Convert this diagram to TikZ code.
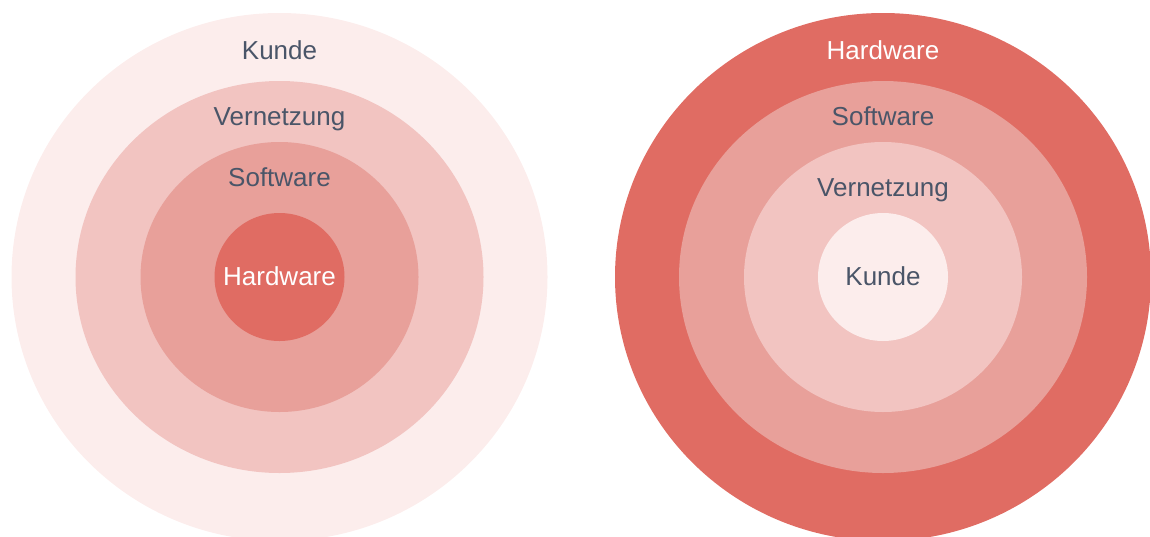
\documentclass[tikz,border=0pt]{standalone}
\usepackage{fontspec}
\setmainfont{Liberation Sans}
\definecolor{ringA}{HTML}{E06C63}
\definecolor{ringB}{HTML}{E8A09A}
\definecolor{ringC}{HTML}{F2C4C1}
\definecolor{ringD}{HTML}{FCEDEC}
\definecolor{labeltext}{HTML}{4A5568}
\begin{document}
\begin{tikzpicture}[x=1pt,y=-1pt,
  lbl/.style={anchor=base,inner sep=0pt,font=\fontsize{26}{26}\selectfont,text=labeltext},
  lblw/.style={lbl,text=white}]
\useasboundingbox (0,0) rectangle (1150,536);
\clip (0,0) rectangle (1150,536);
% left: customer outside, hardware in the core
\coordinate (L) at (279.5,277);
\fill[ringD] (L) ellipse [x radius=268, y radius=264];
\fill[ringC] (L) ellipse [x radius=204, y radius=196];
\fill[ringB] (L) ellipse [x radius=139, y radius=135];
\fill[ringA] (L) ellipse [x radius=65, y radius=64];
\node[lbl]  (lk) at (279.5,59) {Kunde};
\node[lbl]  (lv) at (279.5,125) {Vernetzung};
\node[lbl]  (ls) at (279.5,186) {Software};
\node[lblw] (lh) at (279.5,285.5) {Hardware};
% right: hardware outside, customer in the core
\coordinate (R) at (883,277);
\fill[ringA] (R) ellipse [x radius=268, y radius=264];
\fill[ringB] (R) ellipse [x radius=204, y radius=196];
\fill[ringC] (R) ellipse [x radius=139, y radius=135];
\fill[ringD] (R) ellipse [x radius=65, y radius=64];
\node[lblw] (rh) at (883,59) {Hardware};
\node[lbl]  (rs) at (883,125) {Software};
\node[lbl]  (rv) at (883,196) {Vernetzung};
\node[lbl]  (rk) at (883,285.5) {Kunde};
\end{tikzpicture}
\end{document}
